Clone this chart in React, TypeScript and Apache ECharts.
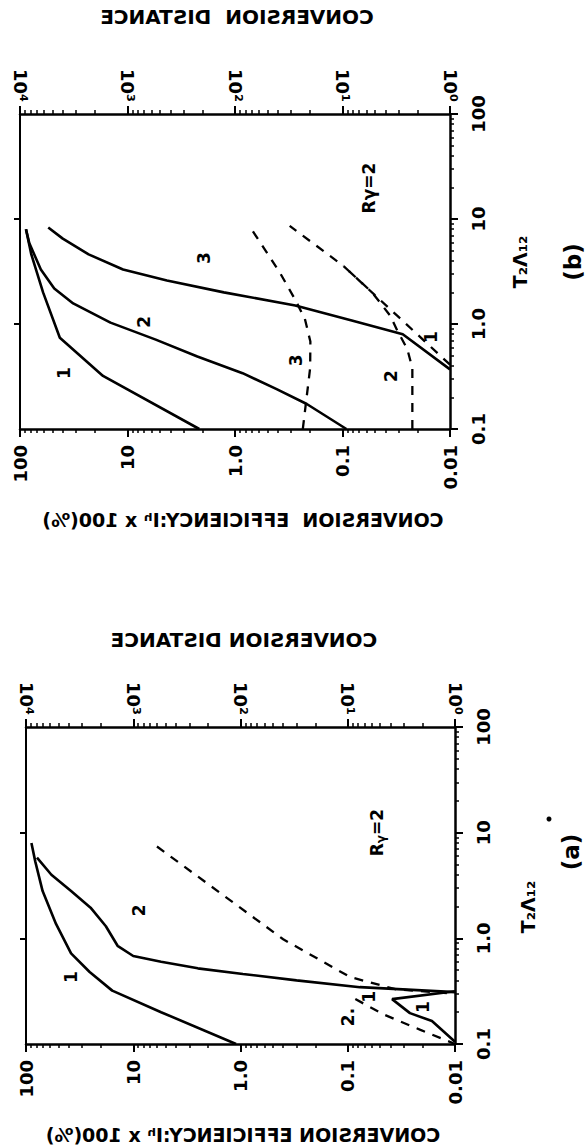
import React, { useEffect, useRef } from "react";
import * as echarts from "echarts";

// ---------- tick values and labels ----------
const effMajor = [0.01, 0.1, 1, 10, 100];
const effLabels = ["0.01", "0.1", "1.0", "10", "100"];
const distMajor = [1, 10, 100, 1000, 10000];
const distLabels = ["10⁰", "10¹", "10²", "10³", "10⁴"];
const tMajor = [0.1, 1, 10, 100];
const tLabels = ["0.1", "1.0", "10", "100"];
const leftTicks = [1, 10];
const minorMultipliers = [2, 3, 4, 5, 6, 7, 8, 9];

// ---------- panel (b) data ----------
// solid curves: [efficiency %, T2A12]
const b_eff1 = [[2.15, 0.1], [16.9, 0.32], [42.6, 0.74], [61, 2.0], [78.5, 4.6], [88, 8.0]];
const b_eff2 = [[0.092, 0.1], [0.215, 0.173], [0.41, 0.24], [0.85, 0.34], [2.24, 0.49], [5.46, 0.71], [14.4, 1.03], [32, 1.57], [48, 2.18], [64, 3.3], [82, 5.9], [88, 8.0]];
const b_eff3 = [[0.01, 0.37], [0.0275, 0.8], [0.082, 1.08], [0.275, 1.5], [1.27, 2.0], [4.3, 2.6], [11, 3.3], [23, 4.6], [40, 6.5], [54.6, 8.3]];
// dashed curves: [conversion distance, T2A12]
const b_dist1 = [[1, 0.41], [3.1, 1.2], [9.9, 3.6], [31, 8.6]];
const b_dist2 = [[2.24, 0.1], [2.24, 0.38], [2.5, 0.58], [3.1, 0.87], [3.6, 1.2], [5.3, 2.0], [9.9, 3.6]];
const b_dist3 = [[23.4, 0.1], [20, 0.38], [19.9, 0.68], [22.4, 1.12], [27.5, 1.7], [38, 3.05], [52, 5.0], [72, 8.3]];
const b_effLabels = [{ name: "1", value: [39, 0.34] }, { name: "2", value: [7.0, 1.05] }, { name: "3", value: [1.94, 4.25] }, { name: "Rγ=2", value: [0.0566, 19.7] }];
const b_distLabels = [{ name: "3", value: [27, 0.45] }, { name: "2", value: [3.54, 0.32] }, { name: "1", value: [1.5, 0.75] }];

// ---------- panel (a) data ----------
const a_eff1 = [[1.1, 0.1], [5.5, 0.2], [15.7, 0.32], [25.5, 0.48], [38, 0.72], [52.5, 1.37], [70, 2.8], [82, 5.35], [89, 8.0]];
const a_eff1low = [[0.01, 0.316], [0.0386, 0.266], [0.0263, 0.196], [0.0164, 0.165], [0.01, 0.105]];
const a_eff2 = [[79, 5.8], [58, 4.0], [38, 2.8], [25, 1.95], [18, 1.3], [14, 0.85], [10, 0.68], [5.5, 0.6], [2.5, 0.52], [0.95, 0.46], [0.3, 0.4], [0.077, 0.345], [0.01, 0.31]];
const a_dist2 = [[601, 7.4], [40, 0.98], [9.5, 0.43], [3.6, 0.33], [1, 0.3]];
const a_dist1 = [[8.5, 0.266], [4.5, 0.188], [2.1, 0.136], [1, 0.1]];
const a_effLabels = [{ name: "1", value: [38, 0.43] }, { name: "2", value: [8.8, 1.84] }, { name: "1", value: [0.02, 0.224] }, { name: "R{s|γ}=2", value: [0.0533, 10] }];
const a_distLabels = [{ name: "2.", value: [10, 0.18] }, { name: "1", value: [6.3, 0.28] }];

const FONT = "DejaVu Sans";

function minors(lo: number, hi: number) {
  const out: number[] = [];
  for (let e = lo; e < hi; e++) for (const m of minorMultipliers) out.push(+(m * Math.pow(10, e)).toPrecision(6));
  return out;
}

function fmt(values: number[], labels: string[]) {
  return (v: number) => {
    const i = values.findIndex((x) => Math.abs(Math.log10(x) - Math.log10(v)) < 1e-6);
    return i >= 0 ? labels[i] : "";
  };
}

const lblStyle = { color: "#000", fontFamily: FONT, fontWeight: "bold" as const, fontSize: 18 };

function buildAxes(gi: number) {
  const x = [
    {
      type: "log", gridIndex: gi, position: "bottom", min: 0.01, max: 100, inverse: true,
      axisLine: { show: true, onZero: false, lineStyle: { color: "#000", width: 2.5 } },
      axisTick: { show: true, length: 8, customValues: effMajor, lineStyle: { color: "#000", width: 2 } },
      axisLabel: { show: true, customValues: effMajor, formatter: fmt(effMajor, effLabels), rotate: 90, margin: 16, ...lblStyle },
      splitLine: { show: false },
    },
    {
      type: "log", gridIndex: gi, position: "bottom", min: 0.01, max: 100, inverse: true,
      axisLine: { show: false, onZero: false },
      axisTick: { show: true, length: 4, customValues: minors(-2, 2), lineStyle: { color: "#000", width: 1.5 } },
      axisLabel: { show: false }, splitLine: { show: false },
    },
    {
      type: "log", gridIndex: gi, position: "top", min: 1, max: 10000, inverse: true,
      axisLine: { show: true, onZero: false, lineStyle: { color: "#000", width: 2.5 } },
      axisTick: { show: true, length: 8, customValues: distMajor, lineStyle: { color: "#000", width: 2 } },
      axisLabel: { show: true, customValues: distMajor, formatter: fmt(distMajor, distLabels), rotate: 90, margin: 12, ...lblStyle },
      splitLine: { show: false },
    },
    {
      type: "log", gridIndex: gi, position: "top", min: 1, max: 10000, inverse: true,
      axisLine: { show: false, onZero: false },
      axisTick: { show: true, length: 4, customValues: minors(0, 4), lineStyle: { color: "#000", width: 1.5 } },
      axisLabel: { show: false }, splitLine: { show: false },
    },
  ];
  const y = [
    {
      type: "log", gridIndex: gi, position: "right", min: 0.1, max: 100,
      axisLine: { show: true, onZero: false, lineStyle: { color: "#000", width: 2.5 } },
      axisTick: { show: true, length: 8, customValues: tMajor, lineStyle: { color: "#000", width: 2 } },
      axisLabel: { show: true, customValues: tMajor, formatter: fmt(tMajor, tLabels), rotate: 90, margin: 19, ...lblStyle },
      splitLine: { show: false },
    },
    {
      type: "log", gridIndex: gi, position: "right", min: 0.1, max: 100,
      axisLine: { show: false, onZero: false },
      axisTick: { show: true, length: 4, customValues: minors(-1, 2), lineStyle: { color: "#000", width: 1.5 } },
      axisLabel: { show: false }, splitLine: { show: false },
    },
    {
      type: "log", gridIndex: gi, position: "left", min: 0.1, max: 100,
      axisLine: { show: true, onZero: false, lineStyle: { color: "#000", width: 2 } },
      axisTick: { show: true, length: 6, customValues: leftTicks, lineStyle: { color: "#000", width: 2 } },
      axisLabel: { show: false }, splitLine: { show: false },
    },
  ];
  return { x, y };
}

function solid(data: number[][], gi: number) {
  return {
    type: "line", xAxisIndex: gi * 4, yAxisIndex: gi * 3, data, showSymbol: false, symbol: "none",
    lineStyle: { color: "#000", width: 2.6 }, z: 3,
  };
}
function dashed(data: number[][], gi: number) {
  return {
    type: "line", xAxisIndex: gi * 4 + 2, yAxisIndex: gi * 3, data, showSymbol: false, symbol: "none",
    lineStyle: { color: "#000", width: 2.3, type: [9, 8] }, z: 3,
  };
}
function labels(data: any[], gi: number, dist: boolean) {
  return {
    type: "scatter", xAxisIndex: gi * 4 + (dist ? 2 : 0), yAxisIndex: gi * 3, data,
    symbolSize: 1, itemStyle: { color: "rgba(0,0,0,0)" }, silent: true, z: 4,
    label: {
      show: true, position: "inside", rotate: 90, formatter: (p: any) => p.name, opacity: 1,
      color: "#000", fontFamily: FONT, fontWeight: "bold", fontSize: 17,
      rich: { s: { fontSize: 12, fontFamily: FONT, fontWeight: "bold", color: "#000", padding: [8, 0, 0, 0] } },
    },
  };
}

function mirrorText(x: number, y: number, text: string, size: number) {
  return {
    type: "text", x, y, scaleX: -1,
    style: { text, fill: "#000", font: `bold ${size}px "${FONT}"`, align: "center", verticalAlign: "middle" },
  };
}
function rotText(x: number, y: number, text: string, size: number) {
  return {
    type: "text", x, y, rotation: Math.PI / 2,
    style: { text, fill: "#000", font: `bold ${size}px "${FONT}"`, align: "center", verticalAlign: "middle" },
  };
}

export default function App() {
  const ref = useRef<HTMLDivElement>(null);
  useEffect(() => {
    if (!ref.current) return;
    const chart = echarts.init(ref.current, undefined, { renderer: "svg" });
    const b = buildAxes(0);
    const a = buildAxes(1);
    chart.setOption({
      animation: false,
      backgroundColor: "#fff",
      grid: [
        { left: 20, top: 114, width: 430, height: 315 },
        { left: 26, top: 727, width: 429, height: 317 },
      ],
      xAxis: [...b.x, ...a.x],
      yAxis: [...b.y, ...a.y],
      series: [
        solid(b_eff1, 0), solid(b_eff2, 0), solid(b_eff3, 0),
        dashed(b_dist1, 0), dashed(b_dist2, 0), dashed(b_dist3, 0),
        labels(b_effLabels, 0, false), labels(b_distLabels, 0, true),
        solid(a_eff1, 1), solid(a_eff1low, 1), solid(a_eff2, 1),
        dashed(a_dist2, 1), dashed(a_dist1, 1),
        labels(a_effLabels, 1, false), labels(a_distLabels, 1, true),
      ],
      graphic: [
        mirrorText(237, 17, "CONVERSION  DISTANCE", 20),
        mirrorText(243, 520, "CONVERSION  EFFICIENCY:Iʰ x 100(%)", 19),
        rotText(520, 262, "T₂Λ₁₂", 19),
        rotText(573, 262, "(b)", 23),
        mirrorText(244, 640, "CONVERSION DISTANCE", 20),
        mirrorText(243, 1135, "CONVERSION EFFICIENCY:Iʰ x 100(%)", 19),
        rotText(528, 907, "T₂Λ₁₂", 19),
        rotText(571, 852, "(a)", 23),
        { type: "circle", shape: { cx: 549, cy: 819, r: 2.5 }, style: { fill: "#000" } },
      ],
    });
    return () => chart.dispose();
  }, []);
  return (
    <div
      ref={ref}
      style={{ position: "fixed", left: 0, top: 0, width: 587, height: 1147, background: "#fff" }}
    />
  );
}
